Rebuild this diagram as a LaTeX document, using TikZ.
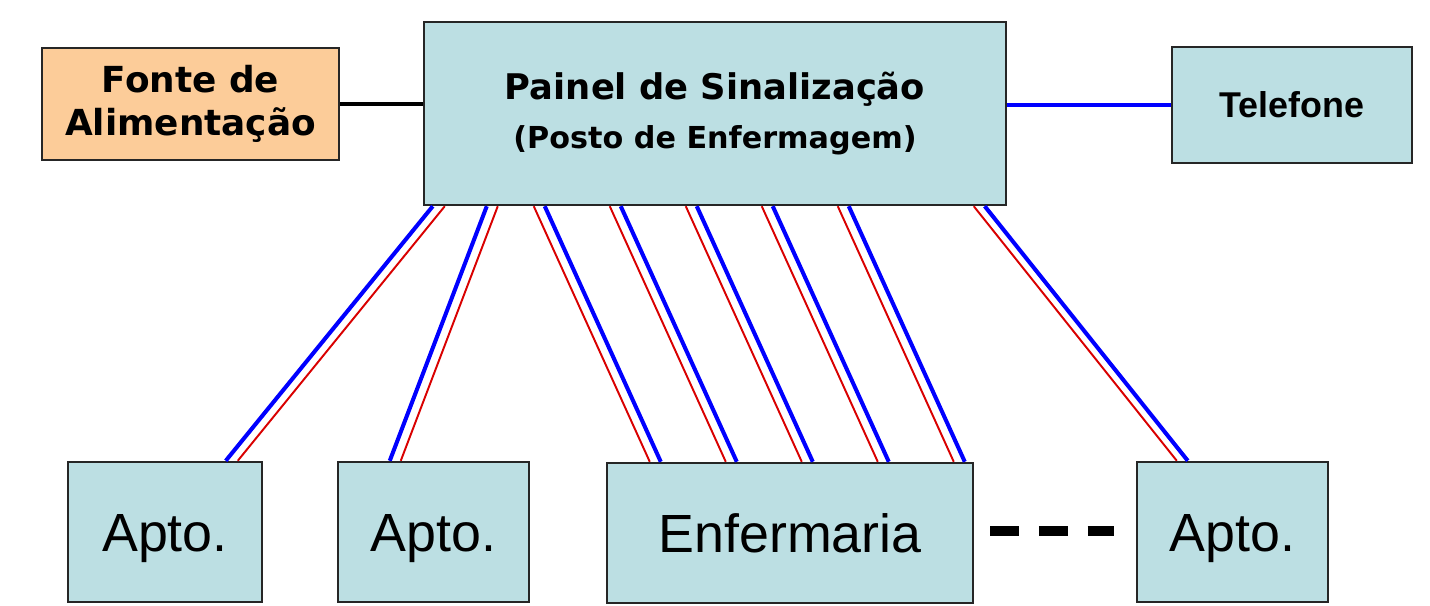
\documentclass[tikz,border=0pt]{standalone}
\usepackage{fontspec}
\usepackage{tikz}
\usetikzlibrary{calc}
\newfontfamily\verdanafont{DejaVu Sans}
\newfontfamily\arialfont{Liberation Sans}
\definecolor{panelblue}{RGB}{188,223,227}
\definecolor{peach}{RGB}{252,204,153}
% red/blue pair: from top node, red offset, to bottom node, red offset, blue shift
\newcommand{\wire}[5]{%
	\draw[wirered] ($(#1.south west)+(#2,0)$) -- ($(#3.north west)+(#4,0)$);
	\draw[wireblue] ($(#1.south west)+(#2+#5,0)$) -- ($(#3.north west)+(#4+#5,0)$);
}

\begin{document}
\begin{tikzpicture}[x=0.2mm, y=-0.2mm,
		box/.style={draw=black!85, line width=1.4pt, fill=panelblue, inner sep=0pt},
		room/.style={box, minimum height=28mm, font=\arialfont\fontsize{30.6}{36}\selectfont, text height=21.9pt, text depth=0pt},
		wirered/.style={red!85!black, line width=1.1pt},
		wireblue/.style={blue, line width=2.3pt}]
			\useasboundingbox (0,0) rectangle (1430,606);
			%%%%%%%%%%%%%%%%%%%%%%%%%%%%%%%%
			\node[box, fill=peach, minimum width=59.4mm, minimum height=22.4mm, align=center,
				font=\verdanafont\bfseries\fontsize{20.4}{24.4}\selectfont] (fonte) at (190.5,104)
				{Fonte de\\Alimentação};
			\node[box, minimum width=116.4mm, minimum height=36.6mm, align=center,
				font=\verdanafont\bfseries\fontsize{20.1}{28.3}\selectfont] (painel) at (715,113.5)
				{Painel de Sinalização\\{\fontsize{17.2}{28.3}\selectfont(Posto de Enfermagem)}};
			\node[box, minimum width=48mm, minimum height=23.2mm,
				font=\arialfont\bfseries\fontsize{20.4}{24}\selectfont] (telefone) at (1292,105) {Telefone};
			%%%%%%%%%%%%%%%%%%%%%%%%%%%%%%%%
			\node[room, minimum width=38.8mm] (apto1) at (165,532) {Apto.};
			\node[room, minimum width=38.2mm] (apto2) at (433.5,532) {Apto.};
			\node[room, minimum width=73.2mm] (enfermaria) at (790,533) {Enfermaria};
			\node[room, minimum width=38.2mm] (apto3) at (1232.5,532) {Apto.};
			%%%%%%%%%%%%%%%%%%%%%%%%%%%%%%%%
			\draw[line width=2.3pt] (fonte.east) -- (fonte.east -| painel.west);
			\draw[blue, line width=2.8pt] (telefone.west -| painel.east) -- (telefone.west);
			\draw[line width=5.7pt, dash pattern=on 16.4pt off 11.3pt]
				($(enfermaria.east)+(16,-2)$) -- ($(apto3.west)+(-22,-1)$);
			%%%%%%%%%%%%%%%%%%%%%%%%%%%%%%%%
			\wire{painel}{22}{apto1}{171}{-12}
			\wire{painel}{75}{apto2}{64}{-11}
			\foreach \i in {0,...,4}{
				\wire{painel}{111+76*\i}{enfermaria}{44+76*\i}{11}
			}
			\wire{painel}{551}{apto3}{41}{11}
		\end{tikzpicture}
\end{document}
